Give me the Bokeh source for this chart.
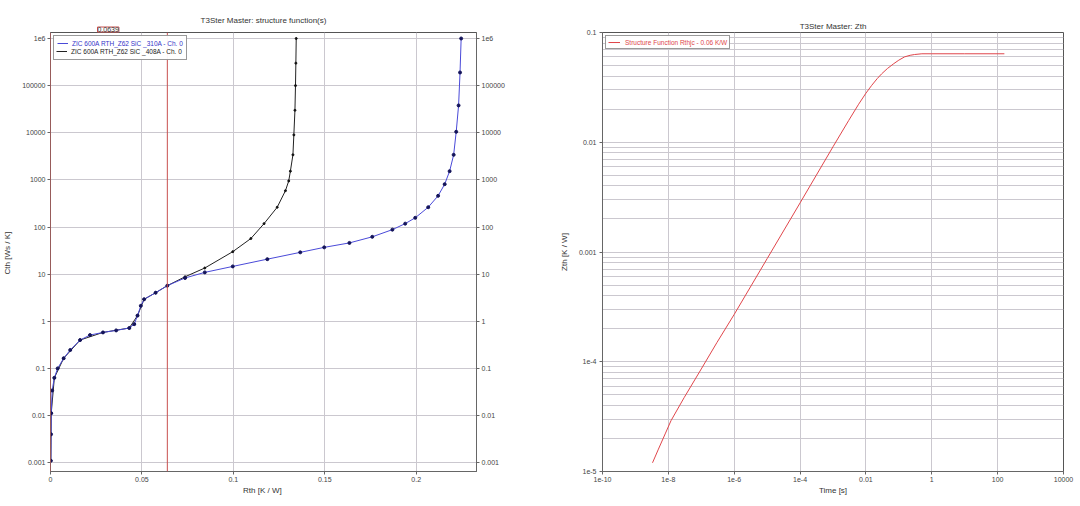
from bokeh.plotting import figure
from bokeh.models import (Range1d, FixedTicker, LogAxis, Legend, LegendItem,
                          Span, Title)
from bokeh.layouts import row
from bokeh.embed import file_html
from bokeh.resources import INLINE

FONT = "Liberation Sans"

# ---------------- left chart: structure functions ----------------
rth_310 = [0.0002, 0.0003, 0.0004, 0.0009, 0.0021, 0.0039, 0.0072, 0.0108, 0.0162,
           0.0216, 0.0287, 0.0359, 0.0431, 0.0458, 0.0476, 0.0494, 0.0512, 0.0575,
           0.0639, 0.0736, 0.0844, 0.0997, 0.1186, 0.1366, 0.1497, 0.1635, 0.176,
           0.187, 0.194, 0.1995, 0.2066, 0.212, 0.2156, 0.2183, 0.2205, 0.2219,
           0.2232, 0.224, 0.2246]
cth_310 = [0.0011, 0.004, 0.0112, 0.034, 0.063, 0.1, 0.164, 0.246, 0.40,
           0.51, 0.58, 0.64, 0.72, 0.87, 1.32, 2.13, 2.93, 4.04,
           5.7, 8.3, 10.9, 14.6, 20.8, 29, 37, 46, 62,
           88, 118, 157, 263, 460, 810, 1530, 3400, 10500,
           38000, 190000, 1e6]

rth_408 = [0.0002, 0.0004, 0.0021, 0.0072, 0.0162, 0.0287, 0.0431, 0.0476, 0.0512,
           0.0575, 0.0639, 0.0736, 0.0844, 0.0997, 0.1096, 0.1168, 0.124, 0.1285,
           0.1303, 0.1312, 0.1326, 0.1331, 0.1337, 0.134, 0.1342, 0.1344]
cth_408 = [0.0011, 0.0112, 0.063, 0.164, 0.40, 0.58, 0.72, 1.32, 2.93,
           4.04, 5.7, 8.8, 13.5, 30, 57, 118, 263, 590,
           950, 1530, 3400, 9000, 30000, 1e5, 3e5, 1e6]

series_labels = ["ZIC 600A RTH_Z62 SiC _310A - Ch. 0",
                 "ZIC 600A RTH_Z62 SiC _408A - Ch. 0"]
cursor_rth = 0.0639
rth_max = 0.233

rth_ticks = [0, 0.05, 0.1, 0.15, 0.2]
rth_tick_labels = ["0", "0.05", "0.1", "0.15", "0.2"]
cth_ticks = [1e-3, 1e-2, 1e-1, 1, 10, 100, 1000, 1e4, 1e5, 1e6]
cth_tick_labels = ["0.001", "0.01", "0.1", "1", "10", "100", "1000", "10000",
                   "100000", "1e6"]

# ---------------- right chart: Zth ----------------
zth_time = [3.3e-9, 5e-9, 8e-9, 1.2e-8, 3e-8, 1e-7, 3e-7, 1e-6, 1e-5, 1e-4,
            1e-3, 3e-3, 6e-3, 1e-2, 1.5e-2, 2.2e-2, 3e-2, 4.5e-2, 7e-2, 0.1,
            0.15, 0.22, 0.3, 0.5, 1, 10, 160]
zth_value = [1.2e-5, 1.6e-5, 2.2e-5, 2.9e-5, 4.7e-5, 8.6e-5, 1.5e-4, 2.7e-4, 8.7e-4,
             2.8e-3, 9.1e-3, 0.0158, 0.0222, 0.028, 0.033, 0.038, 0.042, 0.047,
             0.052, 0.056, 0.060, 0.062, 0.063, 0.064, 0.064, 0.064, 0.064]
zth_label = "Structure Function Rthjc - 0.06 K/W"

time_ticks = [1e-10, 1e-8, 1e-6, 1e-4, 1e-2, 1, 100, 1e4]
time_tick_labels = ["1e-10", "1e-8", "1e-6", "1e-4", "0.01", "1", "100", "10000"]
zth_ticks = [1e-5, 1e-4, 1e-3, 1e-2, 1e-1]
zth_tick_labels = ["1e-5", "1e-4", "0.001", "0.01", "0.1"]

GRID = "#cbc8cf"
RED = "#c8504f"


def style_axis(ax, label_standoff=1):
    ax.major_label_text_font = FONT
    ax.major_label_text_font_size = "7px"
    ax.major_label_text_color = "#444444"
    ax.axis_label_text_font = FONT
    ax.axis_label_text_font_size = "8px"
    ax.axis_label_text_font_style = "normal"
    ax.axis_label_text_color = "#333333"
    ax.axis_line_color = "#666666"
    ax.major_tick_line_color = "#666666"
    ax.major_tick_out = 3
    ax.major_tick_in = 0
    ax.minor_tick_line_color = None
    ax.major_label_standoff = 2
    ax.axis_label_standoff = label_standoff


def style_title(t, size="8px", standoff=0):
    t.text_font = FONT
    t.text_font_size = size
    t.text_font_style = "normal"
    t.text_color = "#333333"
    t.align = "center"
    t.standoff = standoff


# ======= left figure =======
L_W, L_H = 548, 504
L_LEFT, L_RIGHT = 44, 72
p1 = figure(width=L_W, height=L_H, y_axis_type="log",
            x_range=Range1d(0, rth_max), y_range=Range1d(6.5e-4, 1.34e6),
            min_border_left=L_LEFT, min_border_right=L_RIGHT, min_border_top=24,
            min_border_bottom=33, output_backend="svg", toolbar_location=None)
p1.outline_line_color = "#555555"
p1.background_fill_color = "white"
p1.xgrid.grid_line_color = GRID
p1.ygrid.grid_line_color = GRID

p1.xaxis.ticker = FixedTicker(ticks=rth_ticks)
p1.xaxis.major_label_overrides = dict(zip(rth_ticks, rth_tick_labels))
p1.xaxis.axis_label = "Rth  [K / W]"
p1.yaxis.ticker = FixedTicker(ticks=cth_ticks)
p1.yaxis.major_label_overrides = dict(zip(cth_ticks, cth_tick_labels))
p1.yaxis.axis_label = "Cth  [Ws / K]"
right_ax = LogAxis(ticker=FixedTicker(ticks=cth_ticks),
                   major_label_overrides=dict(zip(cth_ticks, cth_tick_labels)))
p1.add_layout(right_ax, "right")
style_axis(p1.xaxis[0], 1)
style_axis(p1.yaxis[0], 7)
style_axis(right_ax, 1)

# cursor lines and cursor read-out box above the frame
p1.add_layout(Span(location=0, dimension="height", line_color=RED, line_width=1))
p1.add_layout(Span(location=cursor_rth, dimension="height", line_color=RED, line_width=1))
frame_w = L_W - L_LEFT - L_RIGHT
cursor_title = Title(text=f"{cursor_rth}", align="left",
                     offset=int(cursor_rth / 2 / rth_max * frame_w) - 12,
                     border_line_color=RED, background_fill_color="white")
style_title(cursor_title, "7px", 1)
cursor_title.align = "left"
p1.add_layout(cursor_title, "above")
main_title = Title(text="T3Ster Master: structure function(s)")
style_title(main_title, "8px", 0)
p1.add_layout(main_title, "above")

black_line = p1.line(rth_408, cth_408, line_color="#222222", line_width=1)
p1.scatter(rth_408, cth_408, marker="circle", size=2, color="#111111")
blue_line = p1.line(rth_310, cth_310, line_color="#4a4ad8", line_width=1)
p1.scatter(rth_310, cth_310, marker="circle", size=3, color="#14145a")
dummy = p1.line(x=[], y=[], line_alpha=0)

leg_kw = dict(location="top_left", margin=3, padding=3, spacing=1,
              glyph_height=8, glyph_width=11, label_height=8, label_standoff=4,
              label_text_font=FONT, label_text_font_size="6.5px",
              background_fill_color="white")
legA = Legend(items=[LegendItem(label=series_labels[0], renderers=[blue_line]),
                     LegendItem(label=" ", renderers=[dummy])],
              label_text_color="#3535c8", border_line_color="#333333", **leg_kw)
legB = Legend(items=[LegendItem(label=" ", renderers=[dummy]),
                     LegendItem(label=series_labels[1], renderers=[black_line])],
              label_text_color="#222222", border_line_alpha=0,
              **{**leg_kw, "background_fill_color": None})
p1.add_layout(legA)
p1.add_layout(legB)

# ======= right figure =======
p2 = figure(width=530, height=504, x_axis_type="log", y_axis_type="log",
            x_range=Range1d(1e-10, 1e4), y_range=Range1d(1e-5, 0.1),
            min_border_left=54, min_border_right=15, min_border_top=32,
            min_border_bottom=32, output_backend="svg", toolbar_location=None,
            title="T3Ster Master: Zth")
style_title(p2.title, "8px", 3)
p2.outline_line_color = "#555555"
p2.xaxis.ticker = FixedTicker(ticks=time_ticks)
p2.xaxis.major_label_overrides = dict(zip(time_ticks, time_tick_labels))
p2.xaxis.axis_label = "Time [s]"
minor = [m * z for z in zth_ticks[:-1] for m in range(2, 10)]
p2.yaxis.ticker = FixedTicker(ticks=zth_ticks, minor_ticks=minor)
p2.yaxis.major_label_overrides = dict(zip(zth_ticks, zth_tick_labels))
p2.yaxis.axis_label = "Zth [K / W]"
style_axis(p2.xaxis[0], 1)
style_axis(p2.yaxis[0], 7)
p2.xgrid.grid_line_color = GRID
p2.ygrid.grid_line_color = GRID
p2.ygrid.minor_grid_line_color = GRID

zr = p2.line(zth_time, zth_value, line_color="#e0464b", line_width=1)
leg2 = Legend(items=[LegendItem(label=zth_label, renderers=[zr])],
              location="top_left", margin=3, padding=2, glyph_height=8,
              glyph_width=12, label_height=8, label_standoff=5,
              label_text_font=FONT, label_text_font_size="6.5px",
              label_text_color="#e0464b", border_line_color="#333333",
              background_fill_color="white")
p2.add_layout(leg2)

layout = row(p1, p2)
open("out.html", "w").write(file_html(layout, INLINE))
